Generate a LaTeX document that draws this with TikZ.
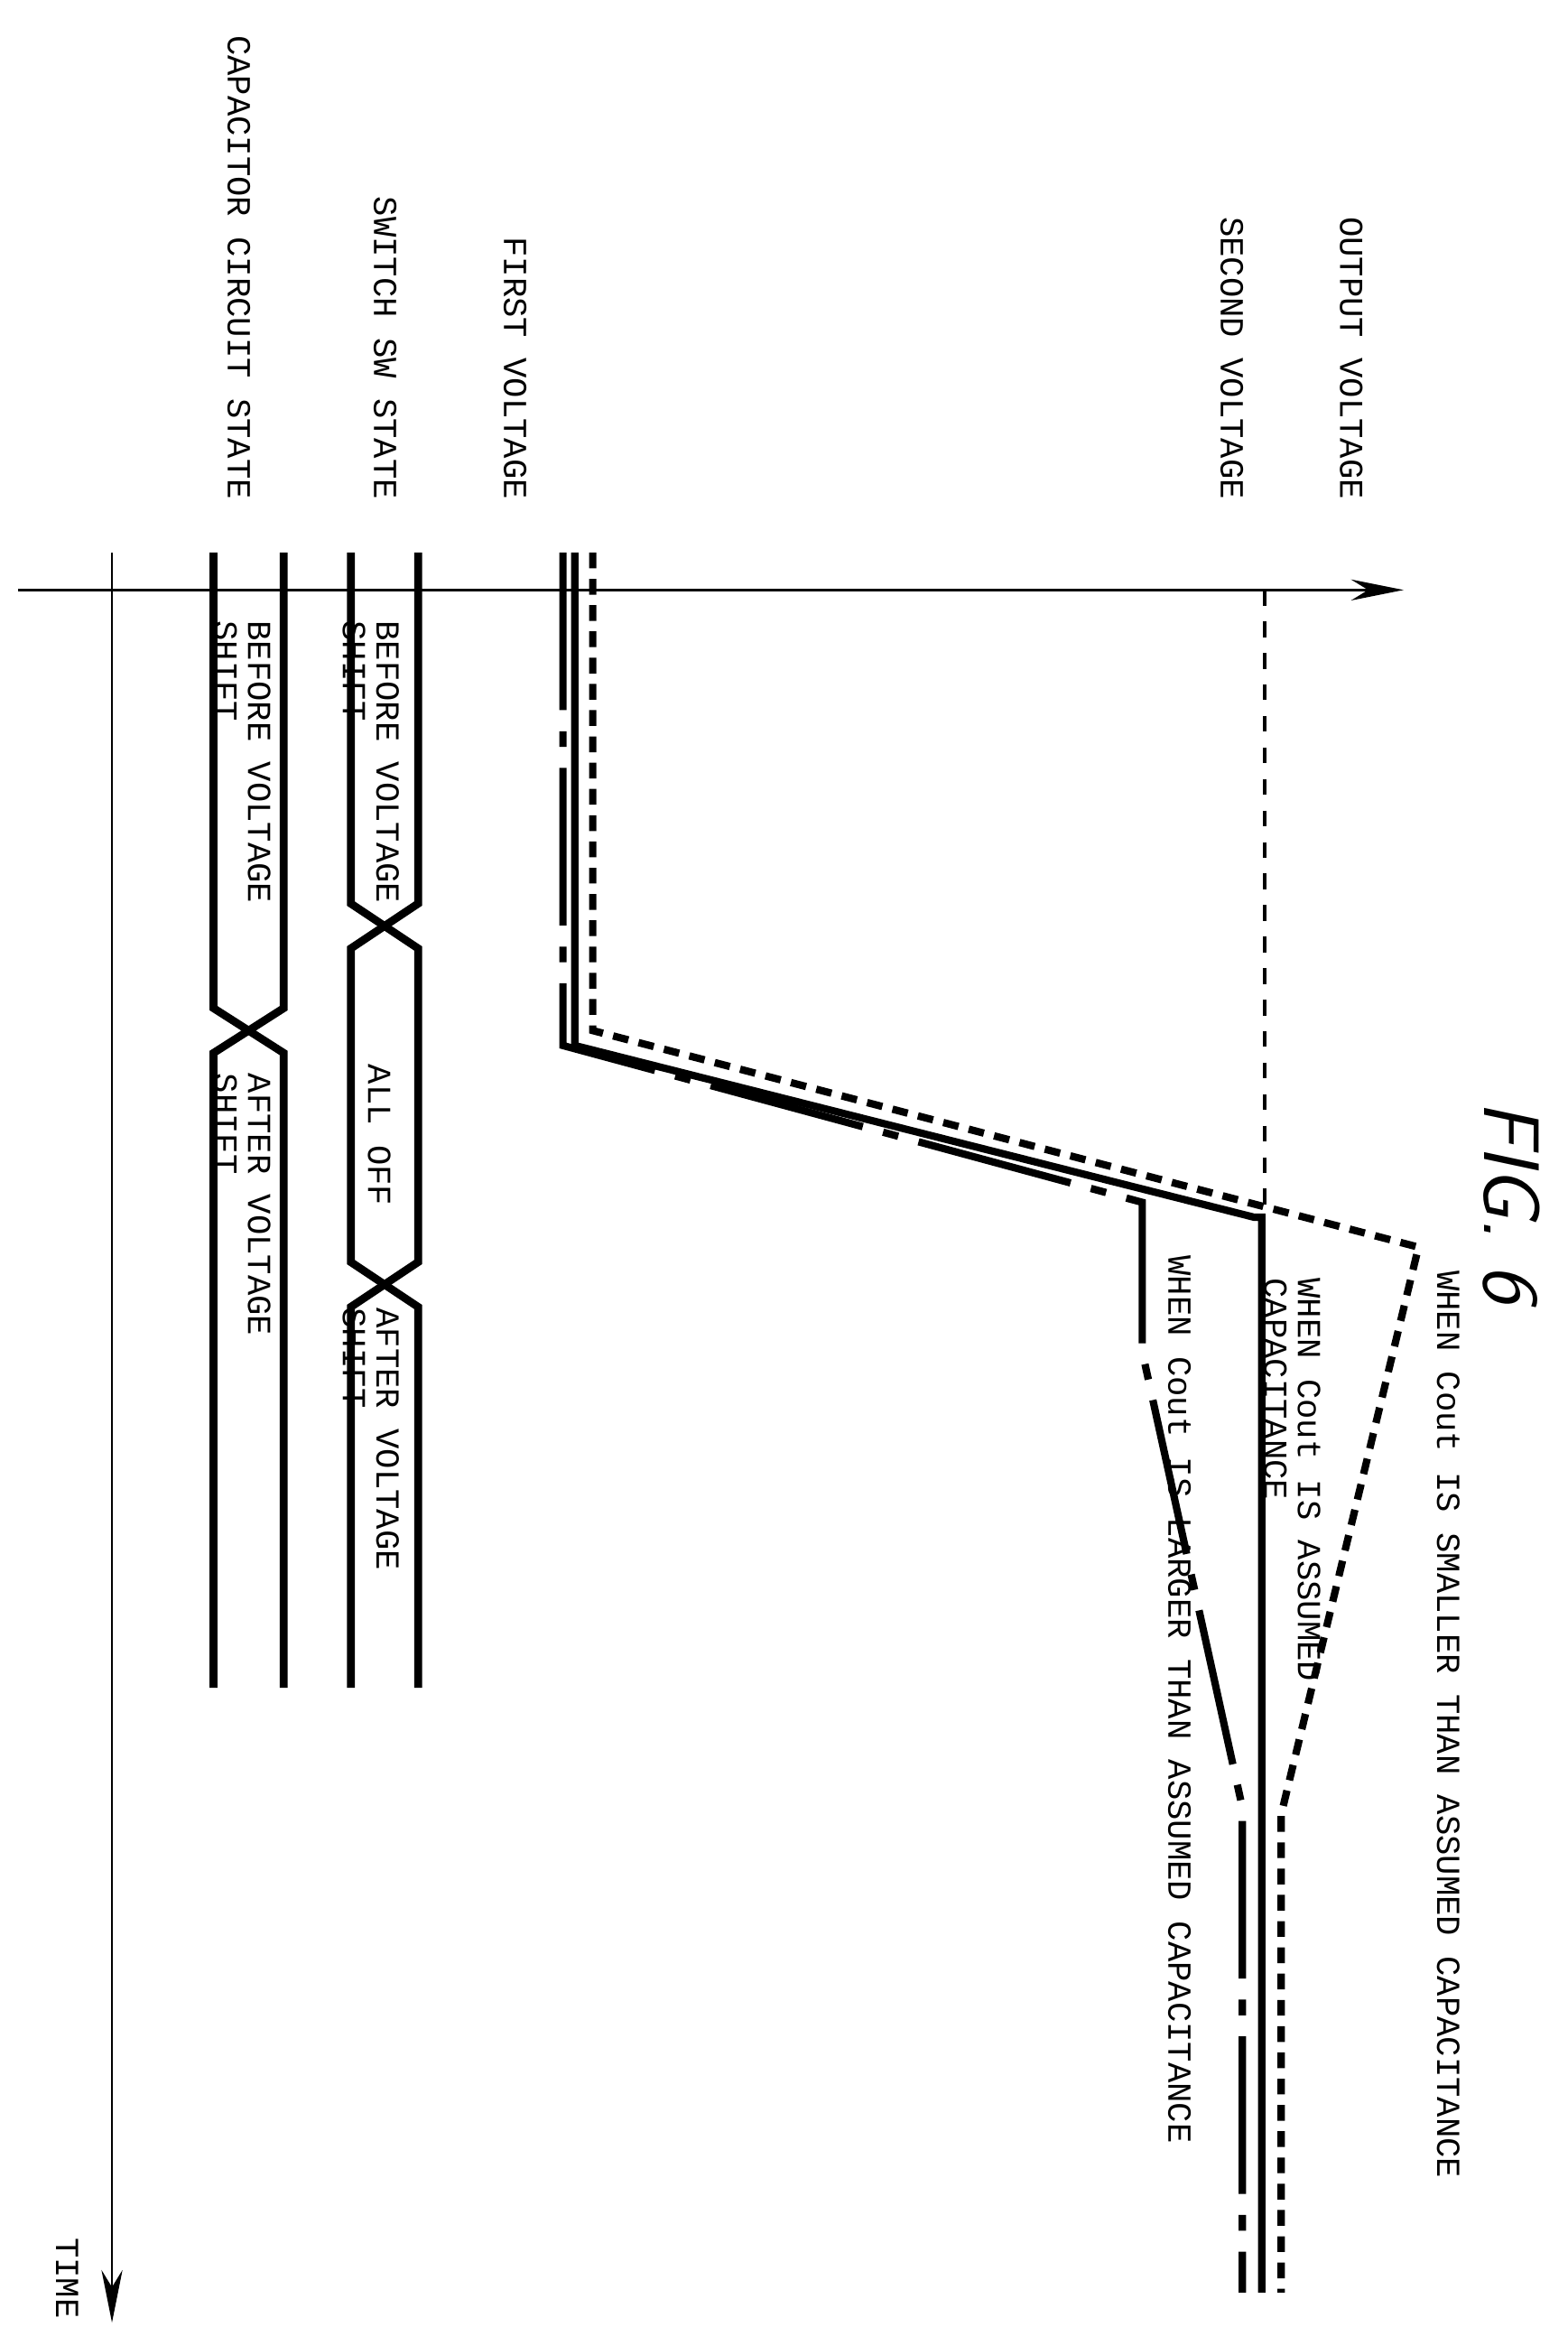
\documentclass[tikz,border=0pt]{standalone}
\usepackage{fontspec}
\setmonofont{Liberation Mono}
\usetikzlibrary{arrows.meta}
\begin{document}
\begin{tikzpicture}[x=0.01cm,y=-0.01cm]
        \tikzstyle{lbl}=[font=\ttfamily\fontsize{6.4pt}{6.4pt}\selectfont,
            rotate=-90, inner sep=0pt]
        \tikzstyle{bus}=[line width=1.5pt]
        \tikzstyle{wave}=[line width=1.4pt]
        \useasboundingbox (0,0) rectangle (1050,1558);

        % axes
        \coordinate (oL) at (12,395);
        \coordinate (oR) at (940,395);
        \coordinate (tT) at (75,370);
        \coordinate (tB) at (75,1555);
        \draw[-{Stealth[length=10pt,width=4pt]}] (oL) -- (oR);
        \draw[-{Stealth[length=10pt,width=4pt]}] (tT) -- (tB);

        % row labels
        \node[lbl, anchor=east] (out) at (905,335) {OUTPUT VOLTAGE};
        \node[lbl, anchor=east] (sec) at (825,335) {SECOND VOLTAGE};
        \node[lbl, anchor=east] (fst) at (345,335) {FIRST VOLTAGE};
        \node[lbl, anchor=east] (sws) at (258,335) {SWITCH SW STATE};
        \node[lbl, anchor=east] (cap) at (160,335) {CAPACITOR CIRCUIT STATE};
        \node[lbl, anchor=east] (time) at (45,1553) {TIME};
        \node[font=\sffamily\itshape\fontsize{15pt}{15pt}\selectfont, rotate=-90,
            inner sep=0pt] (fig) at (1012,805) {FIG. 6};

        % capacitor circuit state bus
        \draw[bus] (143,370) -- (143,675) -- (190,705) -- (190,1130);
        \draw[bus] (190,370) -- (190,675) -- (143,705) -- (143,1130);
        \node[lbl, align=left, anchor=north west] (cbef) at (182,415) {BEFORE VOLTAGE\\SHIFT};
        \node[lbl, align=left, anchor=north west] (caft) at (182,718) {AFTER VOLTAGE\\SHIFT};

        % switch state bus
        \draw[bus] (235,370) -- (235,605) -- (280,635) -- (280,845) -- (235,875) -- (235,1130);
        \draw[bus] (280,370) -- (280,605) -- (235,635) -- (235,845) -- (280,875) -- (280,1130);
        \node[lbl, align=left, anchor=north west] (sbef) at (268,415) {BEFORE VOLTAGE\\SHIFT};
        \node[lbl, anchor=west] (soff) at (254,712) {ALL OFF};
        \node[lbl, align=left, anchor=north west] (saft) at (268,875) {AFTER VOLTAGE\\SHIFT};

        % voltage waveforms
        \draw[dashed, line width=0.8pt] (847,395) -- (847,810);
        \draw[wave] (385,370) -- (385,700) -- (840,815) -- (845,815) -- (845,1535);
        \draw[wave, dash pattern=on 30pt off 4pt on 3pt off 4pt]
            (377,370) -- (377,700) -- (765,805) -- (765,905) -- (832,1210) -- (832,1535);
        \draw[wave, dash pattern=on 3pt off 2pt]
            (397,370) -- (397,690) -- (950,835) -- (858,1215) -- (858,1535);

        % waveform labels
        \node[lbl, anchor=west] (small) at (970,850) {WHEN Cout IS SMALLER THAN ASSUMED CAPACITANCE};
        \node[lbl, align=left, anchor=north west] (assm) at (885,855) {WHEN Cout IS ASSUMED\\CAPACITANCE};
        \node[lbl, anchor=west] (large) at (790,840) {WHEN Cout IS LARGER THAN ASSUMED CAPACITANCE};
\end{tikzpicture}
\end{document}
